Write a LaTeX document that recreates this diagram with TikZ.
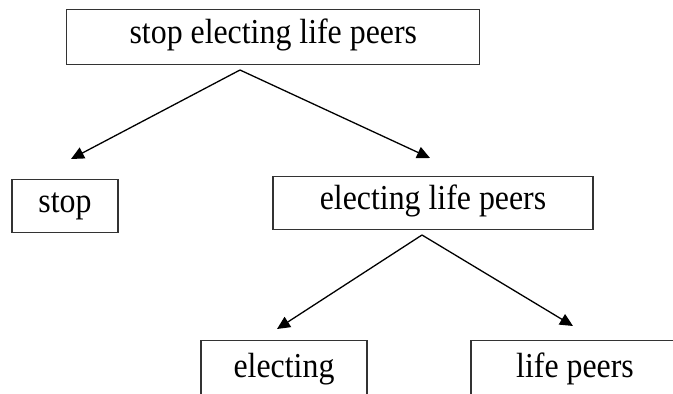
\documentclass[tikz,border=0pt]{standalone}
\usepackage{fontspec}
\setmainfont{Liberation Serif}
% slightly tall, narrow serif for the phrase labels
\newfontfamily\boxfont[FakeStretch=0.91]{Liberation Serif}
\usetikzlibrary{arrows.meta}

\tikzset{
  box/.style={draw=black!80, line width=1.1pt, inner sep=0pt, anchor=north,
    minimum height=55pt, text height=21pt, text depth=8pt,
    font=\boxfont\fontsize{35}{40}\selectfont},
  link/.style={line width=1.3pt, -{Triangle[length=13pt,width=12pt]}}
}

\begin{document}
\begin{tikzpicture}[x=1pt,y=-1pt]
  \path[use as bounding box] (0,0) rectangle (673,394);
  \clip (0,0) rectangle (673,394);

  % phrase boxes
  \node[box, minimum width=413pt] (top) at (273.3,9) {stop electing life peers};
  \node[box, minimum width=106pt, minimum height=53pt] (stop) at (65,179) {stop};
  \node[box, minimum width=320pt, minimum height=53pt] (elp) at (433,176) {electing life peers};
  \node[box, minimum width=166pt, minimum height=60pt] (el) at (284,340) {electing};
  \node[box, minimum width=208pt, minimum height=60pt] (lp) at (575,340) {life peers};

  % branch points and arrow ends
  \coordinate (fork1) at (240,70);
  \coordinate (fork2) at (422,235);
  \coordinate (stopin) at (71,159);
  \coordinate (elpin) at (430,158);
  \coordinate (elin) at (277,329);
  \coordinate (lpin) at (573,326);

  \draw[link] (fork1) -- (stopin);
  \draw[link] (fork1) -- (elpin);
  \draw[link] (fork2) -- (elin);
  \draw[link] (fork2) -- (lpin);
\end{tikzpicture}
\end{document}
